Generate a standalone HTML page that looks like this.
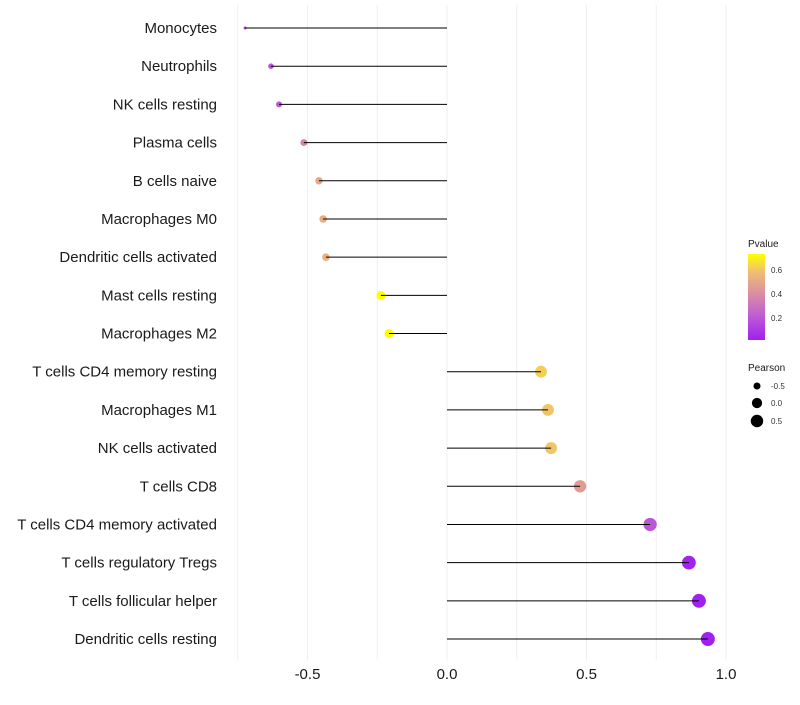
<!DOCTYPE html>
<html><head><meta charset="utf-8"><style>
body{margin:0;background:#fff;font-family:"Liberation Sans",sans-serif;}
</style></head><body>
<svg id="chart" width="800" height="700">
<defs><linearGradient id="pg" x1="0" y1="1" x2="0" y2="0">
<stop offset="0" stop-color="#a020f0"/><stop offset="0.3" stop-color="#c060d0"/><stop offset="0.55" stop-color="#dc90a0"/><stop offset="0.8" stop-color="#f0c070"/><stop offset="1" stop-color="#ffff00"/></linearGradient></defs>
<g id="grid"></g><g id="points"></g><g id="marks"></g><g id="labels"></g><g id="legend"></g>
</svg>
<script>
const categories=["Monocytes","Neutrophils","NK cells resting","Plasma cells","B cells naive","Macrophages M0","Dendritic cells activated","Mast cells resting","Macrophages M2","T cells CD4 memory resting","Macrophages M1","NK cells activated","T cells CD8","T cells CD4 memory activated","T cells regulatory  Tregs ","T cells follicular helper","Dendritic cells resting"];
const pearson=[-0.724,-0.631,-0.602,-0.513,-0.459,-0.444,-0.434,-0.237,-0.208,0.337,0.362,0.373,0.477,0.728,0.867,0.903,0.935];
const pvalue=[0.15,0.2,0.2,0.36,0.5,0.52,0.53,0.73,0.73,0.62,0.6,0.6,0.45,0.2,0.03,0.02,0.02];
const xTicks=[-0.5,0,0.5,1];
const xTickLabels=["-0.5","0.0","0.5","1.0"];
const NS="http://www.w3.org/2000/svg";
const X=v=>447+v*279;
const Y=i=>28+i*38.19;
const pmin=0.02,pmax=0.73;
const stops=[[0,[160,32,240]],[0.3,[192,96,208]],[0.55,[220,144,160]],[0.8,[240,192,112]],[1,[255,255,0]]];
function col(p){let t=Math.max(0,Math.min(1,(p-pmin)/(pmax-pmin)));for(let k=1;k<stops.length;k++){if(t<=stops[k][0]){const a=stops[k-1],b=stops[k];const u=(t-a[0])/(b[0]-a[0]);return "rgb("+a[1].map((c,j)=>Math.round(c+(b[1][j]-c)*u)).join(",")+")";}}return "rgb(255,255,0)";}
const vmin=-0.724,vmax=0.935;
const R=v=>1.5+5.5*Math.sqrt(Math.max(0,(v-vmin)/(vmax-vmin)));
function mk(t,a,p){const e=document.createElementNS(NS,t);for(const k in a)e.setAttribute(k,a[k]);p.appendChild(e);return e;}
const grid=document.getElementById('grid'),pts=document.getElementById('points'),marks=document.getElementById('marks'),labels=document.getElementById('labels'),leg=document.getElementById('legend');
for(let v=-0.75;v<=1.01;v+=0.25){const g=mk('line',{x1:X(v),x2:X(v),y1:5,y2:660,stroke:'#efefef','stroke-width':1},grid);

}
xTicks.forEach((v,i)=>{const t=mk('text',{x:X(v),y:679,'text-anchor':'middle','font-size':15,fill:'#1a1a1a'},labels);t.textContent=xTickLabels[i];

});
categories.forEach((c,i)=>{
const t=mk('text',{x:217,y:Y(i)+5,'text-anchor':'end','font-size':15,fill:'#1a1a1a'},labels);t.textContent=c;


const d=mk('circle',{cx:X(pearson[i]),cy:Y(i),r:R(pearson[i]),fill:col(pvalue[i])},pts);


const l=mk('line',{x1:X(0),x2:X(pearson[i]),y1:Y(i),y2:Y(i),stroke:'#000','stroke-width':1},marks);


});
let tt=mk('text',{x:748,y:247,'font-size':10,fill:'#1a1a1a'},leg);tt.textContent='Pvalue';


const cb=mk('rect',{x:748,y:254,width:17,height:86,fill:'url(#pg)'},leg);


[[0.6,270],[0.4,294],[0.2,318]].forEach(([v,y])=>{const t=mk('text',{x:771,y:y+3,'font-size':8,fill:'#333'},leg);t.textContent=v.toFixed(1);

});
tt=mk('text',{x:748,y:371,'font-size':10,fill:'#1a1a1a'},leg);tt.textContent='Pearson';


[[-0.5,386],[0,403],[0.5,421]].forEach(([v,y])=>{const c=mk('circle',{cx:757,cy:y,r:R(v),fill:'#000'},leg);


const t=mk('text',{x:771,y:y+3,'font-size':8,fill:'#333'},leg);t.textContent=v===0?'0.0':String(v);

});
</script>
</body></html>
